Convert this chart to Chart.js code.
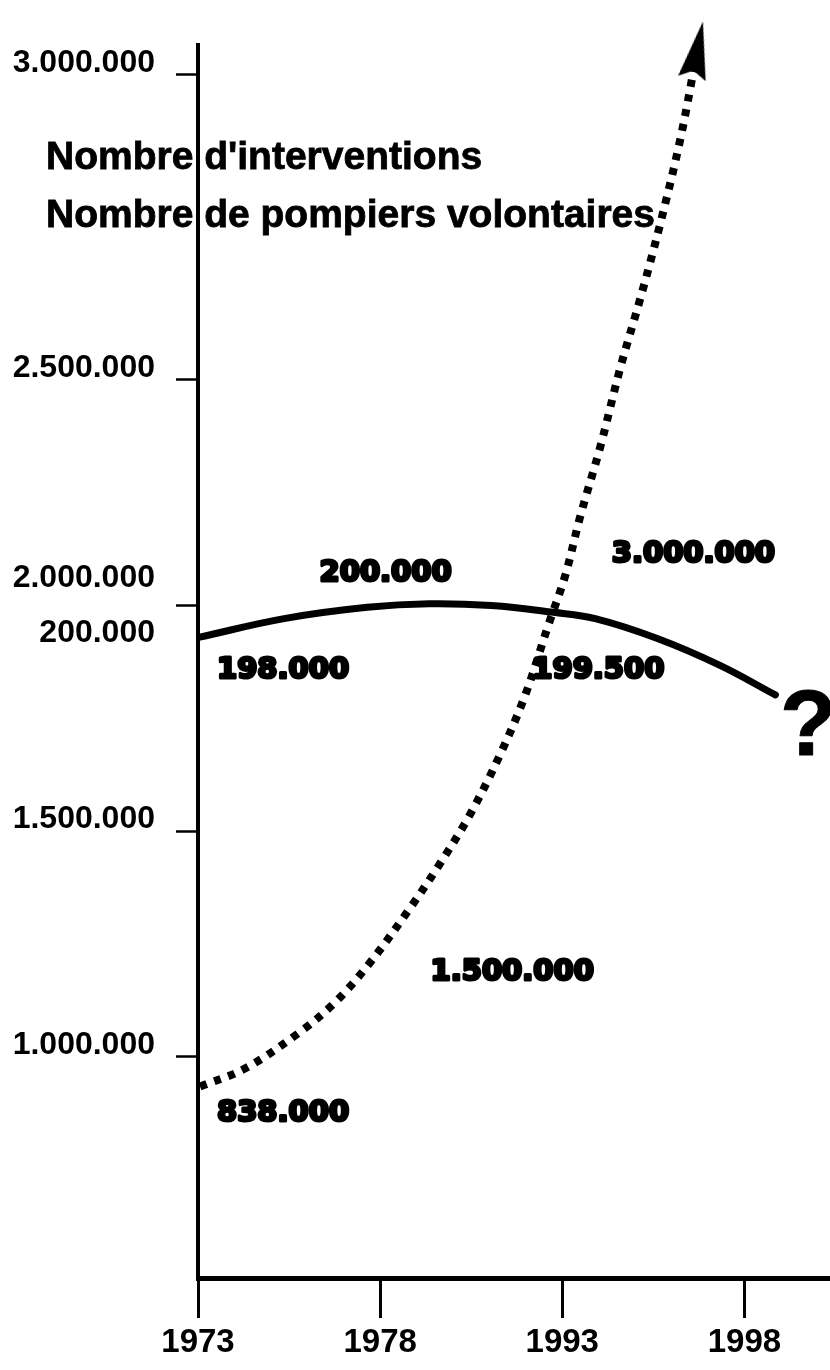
<!DOCTYPE html>
<html lang="fr">
<head>
  <meta charset="UTF-8" />
  <title>Interventions et pompiers volontaires</title>
  <script src="https://cdn.jsdelivr.net/npm/chart.js"></script>
  <style>
    html, body { margin: 0; padding: 0; background: #fff; }
    canvas { display: block; }
  </style>
</head>
<body>
<canvas id="chart" width="830" height="1370"></canvas>

<script>
  // x positions: 0 = 1973, 1 = 1978, 2 = 1993, 3 = 1998 (ticks are evenly spaced on the drawing)
  const xTickLabels = ['1973', '1978', '1993', '1998'];
  const xTickValues = [0, 1, 2, 3];

  // left axis (nombre d'interventions); the drawing is not to scale at the top
  const yTickValues = [1000000, 1500000, 2000000, 2500000, 3176000];
  const yTickLabels = ['1.000.000', '1.500.000', '2.000.000', '2.500.000', '3.000.000'];
  const pompiersTickLabel = '200.000'; // sits under 2.000.000

  // dotted curve: nombre d'interventions
  const interventionsX = [0.011, 0.258, 0.560, 0.753, 0.945, 1.165, 1.330, 1.495, 1.659, 1.797,
                          1.923, 2.016, 2.099, 2.209, 2.319, 2.429, 2.538, 2.648, 2.742];
  const interventionsY = [934000, 974000, 1055000, 1121000, 1209000, 1330000, 1429000, 1538000, 1670000, 1802000,
                          1956000, 2066000, 2198000, 2352000, 2527000, 2681000, 2846000, 3033000, 3231000];

  // solid curve: nombre de pompiers volontaires (200.000 = 2.000.000 line)
  const pompiersX = [0.01, 0.473, 0.929, 1.269, 1.610, 1.951, 2.181, 2.522, 2.863, 3.170];
  const pompiersY = [193000, 197100, 199600, 200400, 200000, 198500, 197100, 192700, 186800, 180200];

  // value labels written on the drawing
  const noteTexts = ['200.000', '198.000', '199.500', '3.000.000', '1.500.000', '838.000', '?'];
  const noteX = [1.03, 0.467, 2.198, 2.72, 1.725, 0.467, 3.35];
  const noteY = [2070000, 1857000, 1857000, 2114000, 1187000, 875000, 1725000];

  const yMin = 510000, yMax = 3242000;
  const xMin = 0, xMax = 3.47;

  const FONT = '"Liberation Sans", Arial, Helvetica, sans-serif';
  const HEAVY = '"DejaVu Sans", "Liberation Sans", sans-serif';

  // elongated arrow head for the end of the dotted curve
  const arrowHead = document.createElement('canvas');
  arrowHead.width = 30;
  arrowHead.height = 58;
  const ah = arrowHead.getContext('2d');
  ah.fillStyle = '#000';
  ah.beginPath();
  ah.moveTo(15, 0);
  ah.lineTo(29, 58);
  ah.lineTo(15, 50);
  ah.lineTo(1, 58);
  ah.closePath();
  ah.fill();

  const interventionsData = interventionsX.map((x, i) => ({ x, y: interventionsY[i] }));
  const pompiersData = pompiersX.map((x, i) => ({ x, y: pompiersY[i] }));
  const lastIdx = interventionsData.length - 1;

  // headings, drawn before the axes so the axis line crosses them
  const headings = {
    id: 'headings',
    beforeDraw(chart) {
      const c = chart.ctx;
      c.save();
      c.fillStyle = '#000';
      c.strokeStyle = '#000';
      c.lineWidth = 0.8;
      c.font = 'bold 39px ' + FONT;
      c.textAlign = 'left';
      c.textBaseline = 'alphabetic';
      c.fillText("Nombre d'interventions", 46, 169);
      c.strokeText("Nombre d'interventions", 46, 169);
      c.fillText('Nombre de pompiers volontaires', 46, 227);
      c.strokeText('Nombre de pompiers volontaires', 46, 227);
      c.restore();
    }
  };

  // heavy value labels placed with the chart scales
  const notes = {
    id: 'notes',
    afterDatasetsDraw(chart) {
      const c = chart.ctx;
      const sx = chart.scales.x, sy = chart.scales.y;
      c.save();
      c.fillStyle = '#000';
      c.strokeStyle = '#000';
      c.lineJoin = 'round';
      c.textAlign = 'center';
      c.textBaseline = 'middle';
      noteTexts.forEach((t, i) => {
        const px = sx.getPixelForValue(noteX[i]);
        const py = sy.getPixelForValue(noteY[i]);
        if (t === '?') {
          c.font = 'bold 92px ' + FONT;
          c.lineWidth = 1;
        } else {
          c.font = 'bold 29px ' + HEAVY;
          c.lineWidth = 3;
        }
        c.fillText(t, px, py);
        c.strokeText(t, px, py);
      });
      c.restore();
    }
  };

  new Chart(document.getElementById('chart').getContext('2d'), {
    type: 'line',
    data: {
      datasets: [
        {
          label: "Nombre d'interventions",
          data: interventionsData,
          yAxisID: 'y',
          borderColor: '#000',
          borderWidth: 8,
          borderDash: [7, 8],
          borderCapStyle: 'butt',
          tension: 0.35,
          fill: false,
          clip: false,
          pointRadius: interventionsData.map((_, i) => i === lastIdx ? 15 : 0),
          pointStyle: arrowHead,
          rotation: 11,
          pointBackgroundColor: '#000'
        },
        {
          label: 'Nombre de pompiers volontaires',
          data: pompiersData,
          yAxisID: 'y2',
          borderColor: '#000',
          borderWidth: 7,
          borderCapStyle: 'round',
          tension: 0.4,
          fill: false,
          pointRadius: 0
        }
      ]
    },
    options: {
      responsive: false,
      animation: false,
      events: [],
      layout: { autoPadding: false, padding: { top: 34, right: 0, left: 0, bottom: 0 } },
      plugins: {
        legend: { display: false },
        tooltip: { enabled: false }
      },
      scales: {
        x: {
          type: 'linear',
          min: xMin,
          max: xMax,
          afterBuildTicks: s => { s.ticks = xTickValues.map(v => ({ value: v })); },
          afterFit: s => { s.height = 92; },
          border: { display: true, color: '#000', width: 5 },
          grid: {
            display: true,
            drawOnChartArea: false,
            drawTicks: true,
            tickLength: 40,
            tickWidth: 3,
            tickColor: '#000'
          },
          ticks: {
            color: '#000',
            padding: 5,
            maxRotation: 0,
            font: { family: FONT, weight: 'bold', size: 33 },
            callback: (v, i) => xTickLabels[i]
          }
        },
        y: {
          type: 'linear',
          position: 'left',
          min: yMin,
          max: yMax,
          afterBuildTicks: s => { s.ticks = yTickValues.map(v => ({ value: v })); },
          afterFit: s => { s.width = 198; },
          border: { display: true, color: '#000', width: 4 },
          grid: {
            display: true,
            drawOnChartArea: false,
            drawTicks: true,
            tickLength: 22,
            tickWidth: 2.5,
            tickColor: '#000'
          },
          ticks: {
            color: '#000',
            padding: 21,
            font: c => ({
              family: FONT,
              weight: 'bold',
              size: 32,
              lineHeight: c.index === 2 ? '55px' : '24px'
            }),
            callback: (v, i) => [yTickLabels[i], i === 2 ? pompiersTickLabel : '']
          }
        },
        y2: {
          type: 'linear',
          display: false,
          min: yMin / 10,
          max: yMax / 10
        }
      }
    },
    plugins: [headings, notes]
  });
</script>
</body>
</html>
